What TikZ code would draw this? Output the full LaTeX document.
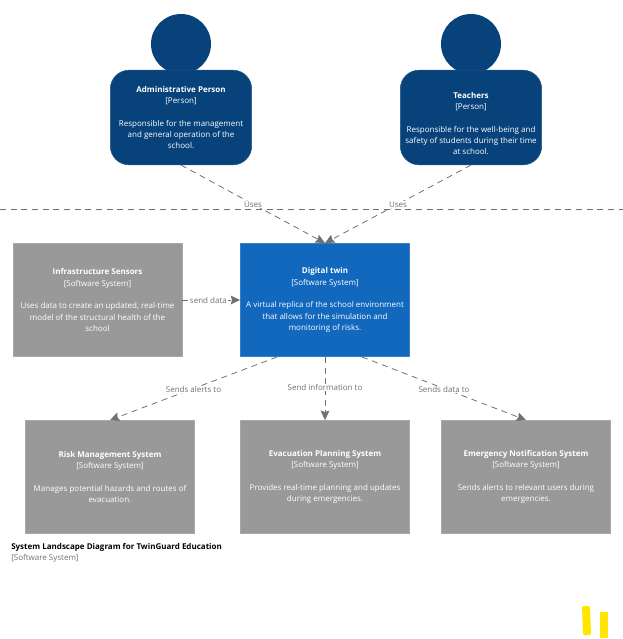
\documentclass[tikz,border=0pt]{standalone}
\usepackage{fontspec}
\usetikzlibrary{arrows.meta}
\setmainfont{Open Sans}
\definecolor{personblue}{HTML}{08427B}
\definecolor{twinblue}{HTML}{1168BD}
\definecolor{softgrey}{HTML}{999999}
\definecolor{relgrey}{HTML}{707070}
\definecolor{logoyellow}{HTML}{FFE500}
\tikzset{
	head/.style={circle, fill=personblue, minimum size=45pt, inner sep=0},
	body/.style={rectangle, rounded corners=14pt, fill=personblue, draw=personblue!90!white, text=white, minimum width=106pt, minimum height=71pt, inner sep=0, align=center, font=\fontsize{6}{8.5}\selectfont},
	softbox/.style={rectangle, fill=softgrey, draw=softgrey!85!white, text=white, minimum width=127pt, minimum height=85pt, inner sep=0, align=center, font=\fontsize{6}{8.5}\selectfont},
	twinbox/.style={softbox, fill=twinblue, draw=twinblue!85!white},
	rel/.style={-{Stealth[length=7pt, width=6.5pt, inset=1pt]}, relgrey, dash pattern=on 4.5pt off 3.5pt, line width=0.6pt},
	rellabel/.style={fill=white, text=relgrey, inner xsep=1pt, inner ysep=0.5pt, yshift=-0.6pt, font=\fontsize{6}{8}\selectfont},
	caption/.style={anchor=west, inner sep=0, font=\fontsize{6}{8}\selectfont}
}
\begin{document}
\begin{tikzpicture}[x=0.75pt, y=-0.75pt]
	\useasboundingbox (0,0) rectangle (623,639);

	% boundary
	\coordinate (sepleft) at (0,209);
	\coordinate (sepright) at (623,209);
	\draw[relgrey, dash pattern=on 4.5pt off 3.5pt, line width=0.6pt] (sepleft) -- (sepright);

	% persons
	\node[head] (adminhead) at (181,44) {};
	\node[head] (teacherhead) at (471,44) {};
	\node[body] (admin) at (181,117.5) {\textbf{Administrative Person}\\{}[Person]\\[8.5pt]Responsible for the management\\and general operation of the\\school.};
	\node[body] (teacher) at (471,117.5) {{}\\[5pt]\textbf{Teachers}\\{}[Person]\\[8.5pt]Responsible for the well-being and\\safety of students during their time\\at school.};

	% systems
	\node[softbox] (sensors) at (97.5,300) {\textbf{Infrastructure Sensors}\\{}[Software System]\\[8.5pt]Uses data to create an updated, real-time\\model of the structural health of the\\school};
	\node[twinbox] (twin) at (325,300) {\textbf{Digital twin}\\{}[Software System]\\[8.5pt]A virtual replica of the school environment\\that allows for the simulation and\\monitoring of risks.};
	\node[softbox] (risk) at (110,477) {\textbf{Risk Management System}\\{}[Software System]\\[8.5pt]Manages potential hazards and routes of\\evacuation.};
	\node[softbox] (evac) at (325,477) {\textbf{Evacuation Planning System}\\{}[Software System]\\[8.5pt]Provides real-time planning and updates\\during emergencies.};
	\node[softbox] (notify) at (526,477) {\textbf{Emergency Notification System}\\{}[Software System]\\[8.5pt]Sends alerts to relevant users during\\emergencies.};

	% relations
	\coordinate (twinleft) at (277,357);
	\coordinate (twinright) at (362,357);
	\draw[rel] (admin.south) -- node[rellabel] (usesa) {Uses} (twin.north);
	\draw[rel] (teacher.south) -- node[rellabel] (usesb) {Uses} (twin.north);
	\draw[rel] (sensors.east) -- node[rellabel, pos=0.45] (senddata) {send data} (twin.west);
	\draw[rel] (twinleft) -- node[rellabel] (sendsalerts) {Sends alerts to} (risk.north);
	\draw[rel] (twin.south) -- node[rellabel, pos=0.47] (sendinfo) {Send information to} (evac.north);
	\draw[rel] (twinright) -- node[rellabel] (sendsdata) {Sends data to} (notify.north);

	% caption
	\node[caption] (title) at (11,547) {\textbf{System Landscape Diagram for TwinGuard Education}};
	\node[caption, text=relgrey] (subtitle) at (11,558) {[Software System]};

	% logo
	\fill[logoyellow, rounded corners=1pt] (582,606) -- (590,606) -- (591,635) -- (583,635) -- cycle;
	\fill[logoyellow] (600,612) rectangle (608,638);
\end{tikzpicture}
\end{document}
